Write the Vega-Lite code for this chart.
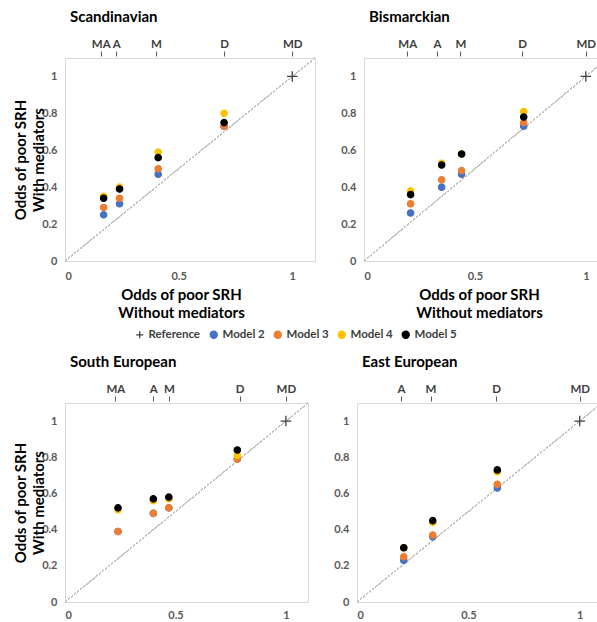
{
  "$schema": "https://vega.github.io/schema/vega-lite/v6.json",
  "padding": {"left": 13, "top": 9, "right": 0, "bottom": 0},
  "background": "white",
  "datasets": {
    "pts": [
      {"region": "Scandinavian", "group": "MA", "model": "Model 2", "x": 0.17, "y": 0.25},
      {"region": "Scandinavian", "group": "MA", "model": "Model 3", "x": 0.17, "y": 0.29},
      {"region": "Scandinavian", "group": "MA", "model": "Model 4", "x": 0.17, "y": 0.35},
      {"region": "Scandinavian", "group": "MA", "model": "Model 5", "x": 0.17, "y": 0.34},
      {"region": "Scandinavian", "group": "A", "model": "Model 2", "x": 0.24, "y": 0.31},
      {"region": "Scandinavian", "group": "A", "model": "Model 3", "x": 0.24, "y": 0.34},
      {"region": "Scandinavian", "group": "A", "model": "Model 4", "x": 0.24, "y": 0.40},
      {"region": "Scandinavian", "group": "A", "model": "Model 5", "x": 0.24, "y": 0.39},
      {"region": "Scandinavian", "group": "M", "model": "Model 2", "x": 0.41, "y": 0.47},
      {"region": "Scandinavian", "group": "M", "model": "Model 3", "x": 0.41, "y": 0.50},
      {"region": "Scandinavian", "group": "M", "model": "Model 4", "x": 0.41, "y": 0.59},
      {"region": "Scandinavian", "group": "M", "model": "Model 5", "x": 0.41, "y": 0.56},
      {"region": "Scandinavian", "group": "D", "model": "Model 2", "x": 0.70, "y": 0.73},
      {"region": "Scandinavian", "group": "D", "model": "Model 3", "x": 0.70, "y": 0.73},
      {"region": "Scandinavian", "group": "D", "model": "Model 4", "x": 0.70, "y": 0.80},
      {"region": "Scandinavian", "group": "D", "model": "Model 5", "x": 0.70, "y": 0.75},
      {"region": "Scandinavian", "group": "MD", "model": "Reference", "x": 1, "y": 1},
      {"region": "Bismarckian", "group": "MA", "model": "Model 2", "x": 0.21, "y": 0.26},
      {"region": "Bismarckian", "group": "MA", "model": "Model 3", "x": 0.21, "y": 0.31},
      {"region": "Bismarckian", "group": "MA", "model": "Model 4", "x": 0.21, "y": 0.38},
      {"region": "Bismarckian", "group": "MA", "model": "Model 5", "x": 0.21, "y": 0.36},
      {"region": "Bismarckian", "group": "A", "model": "Model 2", "x": 0.35, "y": 0.40},
      {"region": "Bismarckian", "group": "A", "model": "Model 3", "x": 0.35, "y": 0.44},
      {"region": "Bismarckian", "group": "A", "model": "Model 4", "x": 0.35, "y": 0.53},
      {"region": "Bismarckian", "group": "A", "model": "Model 5", "x": 0.35, "y": 0.52},
      {"region": "Bismarckian", "group": "M", "model": "Model 2", "x": 0.44, "y": 0.47},
      {"region": "Bismarckian", "group": "M", "model": "Model 3", "x": 0.44, "y": 0.49},
      {"region": "Bismarckian", "group": "M", "model": "Model 4", "x": 0.44, "y": 0.58},
      {"region": "Bismarckian", "group": "M", "model": "Model 5", "x": 0.44, "y": 0.58},
      {"region": "Bismarckian", "group": "D", "model": "Model 2", "x": 0.72, "y": 0.73},
      {"region": "Bismarckian", "group": "D", "model": "Model 3", "x": 0.72, "y": 0.75},
      {"region": "Bismarckian", "group": "D", "model": "Model 4", "x": 0.72, "y": 0.81},
      {"region": "Bismarckian", "group": "D", "model": "Model 5", "x": 0.72, "y": 0.78},
      {"region": "Bismarckian", "group": "MD", "model": "Reference", "x": 1, "y": 1},
      {"region": "South European", "group": "MA", "model": "Model 2", "x": 0.24, "y": 0.39},
      {"region": "South European", "group": "MA", "model": "Model 3", "x": 0.24, "y": 0.39},
      {"region": "South European", "group": "MA", "model": "Model 4", "x": 0.24, "y": 0.51},
      {"region": "South European", "group": "MA", "model": "Model 5", "x": 0.24, "y": 0.52},
      {"region": "South European", "group": "A", "model": "Model 2", "x": 0.40, "y": 0.49},
      {"region": "South European", "group": "A", "model": "Model 3", "x": 0.40, "y": 0.49},
      {"region": "South European", "group": "A", "model": "Model 4", "x": 0.40, "y": 0.56},
      {"region": "South European", "group": "A", "model": "Model 5", "x": 0.40, "y": 0.57},
      {"region": "South European", "group": "M", "model": "Model 2", "x": 0.47, "y": 0.52},
      {"region": "South European", "group": "M", "model": "Model 3", "x": 0.47, "y": 0.52},
      {"region": "South European", "group": "M", "model": "Model 4", "x": 0.47, "y": 0.57},
      {"region": "South European", "group": "M", "model": "Model 5", "x": 0.47, "y": 0.58},
      {"region": "South European", "group": "D", "model": "Model 2", "x": 0.78, "y": 0.79},
      {"region": "South European", "group": "D", "model": "Model 3", "x": 0.78, "y": 0.79},
      {"region": "South European", "group": "D", "model": "Model 4", "x": 0.78, "y": 0.81},
      {"region": "South European", "group": "D", "model": "Model 5", "x": 0.78, "y": 0.84},
      {"region": "South European", "group": "MD", "model": "Reference", "x": 1, "y": 1},
      {"region": "East European", "group": "A", "model": "Model 2", "x": 0.21, "y": 0.23},
      {"region": "East European", "group": "A", "model": "Model 3", "x": 0.21, "y": 0.25},
      {"region": "East European", "group": "A", "model": "Model 4", "x": 0.21, "y": 0.30},
      {"region": "East European", "group": "A", "model": "Model 5", "x": 0.21, "y": 0.30},
      {"region": "East European", "group": "M", "model": "Model 2", "x": 0.34, "y": 0.36},
      {"region": "East European", "group": "M", "model": "Model 3", "x": 0.34, "y": 0.37},
      {"region": "East European", "group": "M", "model": "Model 4", "x": 0.34, "y": 0.44},
      {"region": "East European", "group": "M", "model": "Model 5", "x": 0.34, "y": 0.45},
      {"region": "East European", "group": "D", "model": "Model 2", "x": 0.63, "y": 0.63},
      {"region": "East European", "group": "D", "model": "Model 3", "x": 0.63, "y": 0.65},
      {"region": "East European", "group": "D", "model": "Model 4", "x": 0.63, "y": 0.72},
      {"region": "East European", "group": "D", "model": "Model 5", "x": 0.63, "y": 0.73},
      {"region": "East European", "group": "MD", "model": "Reference", "x": 1, "y": 1}
    ]
  },
  "spacing": 33,
  "vconcat": [
    {
      "spacing": 24,
      "hconcat": [
        {
          "width": 250, "height": 203,
          "title": {"text": "Scandinavian"},
          "data": {"name": "pts"},
          "transform": [{"filter": "datum.region === 'Scandinavian'"}],
          "resolve": {"axis": {"x": "independent"}},
          "layer": [
            {
              "mark": {"type": "rule", "color": "#bfbfbf", "strokeDash": [2, 2], "strokeWidth": 1},
              "encoding": {
                "x": {"datum": 0, "type": "quantitative", "scale": {"domain": [0, 1.1], "nice": false}, "axis": {"orient": "top", "values": [0.157, 0.226, 0.40, 0.70, 1], "labelExpr": "datum.value<0.2?'MA':datum.value<0.3?'A':datum.value<0.5?'M':datum.value<0.9?'D':'MD'", "title": null, "ticks": true, "tickSize": 5, "tickColor": "#595959", "offset": 2, "labelPadding": 2, "labelColor": "#404040", "labelFontSize": 11.5}},
                "x2": {"datum": 1.1},
                "y": {"datum": 0, "type": "quantitative", "scale": {"domain": [0, 1.1], "nice": false}, "axis": {"values": [0, 0.2, 0.4, 0.6, 0.8, 1], "format": "~g", "title": ["Odds of poor SRH", "With mediators"], "titlePadding": -5}},
                "y2": {"datum": 1.1}
              }
            },
            {
              "mark": {"type": "point", "filled": true, "opacity": 1, "strokeWidth": 1.3},
              "encoding": {
                "x": {"field": "x", "type": "quantitative", "scale": {"domain": [0, 1.1], "nice": false}, "axis": {"orient": "bottom", "values": [0, 0.5, 1], "format": "~g", "labelPadding": 9, "title": ["Odds of poor SRH", "Without mediators"], "titleX": 116, "titleAnchor": null, "titleAlign": "center", "titlePadding": 6}},
                "y": {"field": "y", "type": "quantitative", "scale": {"domain": [0, 1.1], "nice": false}, "axis": {"values": [0, 0.2, 0.4, 0.6, 0.8, 1], "format": "~g", "title": ["Odds of poor SRH", "With mediators"], "titlePadding": -5}},
                "color": {"field": "model", "type": "nominal", "scale": {"domain": ["Reference", "Model 2", "Model 3", "Model 4", "Model 5"], "range": ["#404040", "#4472C4", "#ED7D31", "#FFC000", "#000000"]}, "legend": {"orient": "none", "direction": "horizontal", "legendX": 69, "legendY": 271, "title": null}},
                "stroke": {"field": "model", "type": "nominal", "scale": {"domain": ["Reference", "Model 2", "Model 3", "Model 4", "Model 5"], "range": ["#404040", "#4472C4", "#ED7D31", "#FFC000", "#000000"]}, "legend": {"orient": "none", "direction": "horizontal", "legendX": 69, "legendY": 271, "title": null}},
                "shape": {"field": "model", "type": "nominal", "scale": {"domain": ["Reference", "Model 2", "Model 3", "Model 4", "Model 5"], "range": ["M-1,0H1M0,-1V1", "circle", "circle", "circle", "circle"]}, "legend": {"orient": "none", "direction": "horizontal", "legendX": 69, "legendY": 271, "title": null}},
                "size": {"condition": {"test": "datum.model === 'Reference'", "value": 110}, "value": 40}
              }
            }
          ]
        },
        {
          "width": 244, "height": 203,
          "title": {"text": "Bismarckian"},
          "data": {"name": "pts"},
          "transform": [{"filter": "datum.region === 'Bismarckian'"}],
          "resolve": {"axis": {"x": "independent"}},
          "layer": [
            {
              "mark": {"type": "rule", "color": "#bfbfbf", "strokeDash": [2, 2], "strokeWidth": 1},
              "encoding": {
                "x": {"datum": 0, "type": "quantitative", "scale": {"domain": [0, 1.1], "nice": false}, "axis": {"orient": "top", "values": [0.195, 0.329, 0.435, 0.713, 1], "labelExpr": "datum.value<0.25?'MA':datum.value<0.38?'A':datum.value<0.5?'M':datum.value<0.9?'D':'MD'", "title": null, "ticks": true, "tickSize": 5, "tickColor": "#595959", "offset": 2, "labelPadding": 2, "labelColor": "#404040", "labelFontSize": 11.5}},
                "x2": {"datum": 1.1},
                "y": {"datum": 0, "type": "quantitative", "scale": {"domain": [0, 1.1], "nice": false}, "axis": {"values": [0, 0.2, 0.4, 0.6, 0.8, 1], "format": "~g", "title": null}},
                "y2": {"datum": 1.1}
              }
            },
            {
              "mark": {"type": "point", "filled": true, "opacity": 1, "strokeWidth": 1.3},
              "encoding": {
                "x": {"field": "x", "type": "quantitative", "scale": {"domain": [0, 1.1], "nice": false}, "axis": {"orient": "bottom", "values": [0, 0.5, 1], "format": "~g", "labelPadding": 9, "title": ["Odds of poor SRH", "Without mediators"], "titleX": 115, "titleAnchor": null, "titleAlign": "center", "titlePadding": 6}},
                "y": {"field": "y", "type": "quantitative", "scale": {"domain": [0, 1.1], "nice": false}, "axis": {"values": [0, 0.2, 0.4, 0.6, 0.8, 1], "format": "~g", "title": null}},
                "color": {"field": "model", "type": "nominal"},
                "stroke": {"field": "model", "type": "nominal"},
                "shape": {"field": "model", "type": "nominal"},
                "size": {"condition": {"test": "datum.model === 'Reference'", "value": 110}, "value": 40}
              }
            }
          ]
        }
      ]
    },
    {
      "spacing": 24,
      "hconcat": [
        {
          "width": 243, "height": 199,
          "title": {"text": "South European"},
          "data": {"name": "pts"},
          "transform": [{"filter": "datum.region === 'South European'"}],
          "resolve": {"axis": {"x": "independent"}},
          "layer": [
            {
              "mark": {"type": "rule", "color": "#bfbfbf", "strokeDash": [2, 2], "strokeWidth": 1},
              "encoding": {
                "x": {"datum": 0, "type": "quantitative", "scale": {"domain": [0, 1.1], "nice": false}, "axis": {"orient": "top", "values": [0.228, 0.40, 0.47, 0.79, 1], "labelExpr": "datum.value<0.3?'MA':datum.value<0.43?'A':datum.value<0.6?'M':datum.value<0.9?'D':'MD'", "title": null, "ticks": true, "tickSize": 5, "tickColor": "#595959", "offset": 2, "labelPadding": 2, "labelColor": "#404040", "labelFontSize": 11.5}},
                "x2": {"datum": 1.1},
                "y": {"datum": 0, "type": "quantitative", "scale": {"domain": [0, 1.1], "nice": false}, "axis": {"values": [0, 0.2, 0.4, 0.6, 0.8, 1], "format": "~g", "title": ["Odds of poor SRH", "With mediators"], "titlePadding": -5}},
                "y2": {"datum": 1.1}
              }
            },
            {
              "mark": {"type": "point", "filled": true, "opacity": 1, "strokeWidth": 1.3},
              "encoding": {
                "x": {"field": "x", "type": "quantitative", "scale": {"domain": [0, 1.1], "nice": false}, "axis": {"orient": "bottom", "values": [0, 0.5, 1], "format": "~g", "labelPadding": 7, "title": null}},
                "y": {"field": "y", "type": "quantitative", "scale": {"domain": [0, 1.1], "nice": false}, "axis": {"values": [0, 0.2, 0.4, 0.6, 0.8, 1], "format": "~g", "title": ["Odds of poor SRH", "With mediators"], "titlePadding": -5}},
                "color": {"field": "model", "type": "nominal"},
                "stroke": {"field": "model", "type": "nominal"},
                "shape": {"field": "model", "type": "nominal"},
                "size": {"condition": {"test": "datum.model === 'Reference'", "value": 110}, "value": 40}
              }
            }
          ]
        },
        {
          "width": 245, "height": 199,
          "title": {"text": "East European"},
          "data": {"name": "pts"},
          "transform": [{"filter": "datum.region === 'East European'"}],
          "resolve": {"axis": {"x": "independent"}},
          "layer": [
            {
              "mark": {"type": "rule", "color": "#bfbfbf", "strokeDash": [2, 2], "strokeWidth": 1},
              "encoding": {
                "x": {"datum": 0, "type": "quantitative", "scale": {"domain": [0, 1.1], "nice": false}, "axis": {"orient": "top", "values": [0.197, 0.33, 0.625, 1], "labelExpr": "datum.value<0.25?'A':datum.value<0.5?'M':datum.value<0.9?'D':'MD'", "title": null, "ticks": true, "tickSize": 5, "tickColor": "#595959", "offset": 2, "labelPadding": 2, "labelColor": "#404040", "labelFontSize": 11.5}},
                "x2": {"datum": 1.1},
                "y": {"datum": 0, "type": "quantitative", "scale": {"domain": [0, 1.1], "nice": false}, "axis": {"values": [0, 0.2, 0.4, 0.6, 0.8, 1], "format": "~g", "title": null}},
                "y2": {"datum": 1.1}
              }
            },
            {
              "mark": {"type": "point", "filled": true, "opacity": 1, "strokeWidth": 1.3},
              "encoding": {
                "x": {"field": "x", "type": "quantitative", "scale": {"domain": [0, 1.1], "nice": false}, "axis": {"orient": "bottom", "values": [0, 0.5, 1], "format": "~g", "labelPadding": 7, "title": null}},
                "y": {"field": "y", "type": "quantitative", "scale": {"domain": [0, 1.1], "nice": false}, "axis": {"values": [0, 0.2, 0.4, 0.6, 0.8, 1], "format": "~g", "title": null}},
                "color": {"field": "model", "type": "nominal"},
                "stroke": {"field": "model", "type": "nominal"},
                "shape": {"field": "model", "type": "nominal"},
                "size": {"condition": {"test": "datum.model === 'Reference'", "value": 110}, "value": 40}
              }
            }
          ]
        }
      ]
    }
  ],
  "config": {
    "font": "Lato",
    "view": {"stroke": "#d9d9d9"},
    "title": {"anchor": "start", "frame": "group", "dx": 5, "fontSize": 15, "fontWeight": "bold", "font": "Lato", "color": "#000000", "offset": 13},
    "axis": {"grid": false, "domain": false, "ticks": false, "labelOverlap": false, "labelFont": "Lato", "labelFontWeight": "bold", "labelFontSize": 11, "labelColor": "#595959", "labelPadding": 8, "titleFont": "Lato", "titleFontWeight": "bold", "titleFontSize": 15, "titleColor": "#000000", "titleLineHeight": 18},
    "legend": {"labelFont": "Lato", "labelFontWeight": "bold", "labelFontSize": 11.5, "labelColor": "#404040", "symbolSize": 50, "symbolStrokeWidth": 1.3, "columnPadding": 6, "labelOffset": 3}
  }
}
